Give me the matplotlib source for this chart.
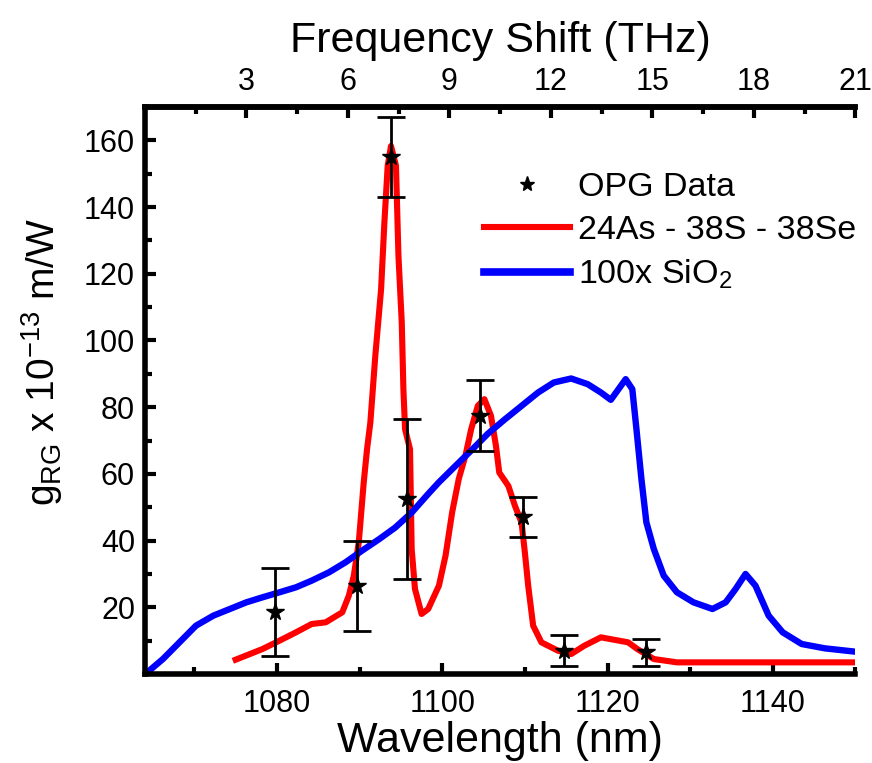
import numpy as np
import matplotlib
matplotlib.use("Agg")
import matplotlib.pyplot as plt
from matplotlib.lines import Line2D
from matplotlib.ticker import MultipleLocator

plt.rcParams["font.family"] = ["Liberation Sans", "DejaVu Sans"]
plt.rcParams["mathtext.fontset"] = "custom"
plt.rcParams["mathtext.rm"] = "Liberation Sans"

# 24As-38S-38Se Raman gain curve (wavelength nm, gain)
red_wl = [1075.0, 1078.25, 1079.9, 1082.3, 1084.2, 1085.9, 1087.9, 1088.7, 1089.3,
          1089.9, 1090.5, 1090.9, 1091.3, 1091.9, 1092.6, 1093.0, 1093.4, 1093.8,
          1094.4, 1094.7, 1095.1, 1095.3, 1095.5, 1096.1, 1096.3, 1096.7, 1097.5,
          1098.3, 1099.6, 1100.4, 1101.2, 1102.0, 1102.8, 1103.5, 1104.3, 1105.1,
          1105.9, 1106.5, 1106.9, 1108.0, 1108.8, 1109.6, 1110.0, 1110.4, 1111.0,
          1112.0, 1114.0, 1115.6, 1117.2, 1119.2, 1122.5, 1123.6, 1125.6, 1128.4,
          1136.4, 1150.0]
red_g = [4.3, 7.5, 9.5, 12.5, 15.0, 15.5, 18.5, 23.5, 29.5,
         39.5, 57.5, 67.4, 75.4, 95.4, 115.4, 135.4, 152.4, 158.3,
         152.4, 125.4, 105.4, 85.4, 73.4, 67.4, 37.5, 25.5, 18.0,
         19.5, 26.5, 35.5, 48.5, 58.5, 65.4, 73.4, 80.4, 82.4,
         77.4, 68.4, 60.4, 56.4, 50.4, 45.4, 36.4, 26.5, 14.5,
         9.5, 7.0, 6.0, 8.5, 11.0, 9.5, 7.5, 4.5, 3.5,
         3.5, 3.5]

# 100x SiO2 Raman gain curve
blue_wl = [1064.0, 1064.3, 1066.2, 1068.2, 1070.2, 1072.3, 1074.3, 1076.3, 1078.25,
           1080.3, 1082.3, 1084.2, 1086.3, 1088.3, 1090.3, 1092.4, 1094.3, 1096.3,
           1098.3, 1099.6, 1101.6, 1103.5, 1105.5, 1107.6, 1109.6, 1111.6, 1113.5,
           1115.6, 1117.6, 1119.2, 1120.4, 1122.2, 1123.0, 1123.5, 1124.1, 1124.7,
           1125.6, 1126.8, 1128.4, 1130.4, 1132.7, 1134.3, 1135.5, 1136.7, 1137.9,
           1139.5, 1141.2, 1143.5, 1146.3, 1150.0]
blue_g = [0.0, 0.5, 4.5, 9.5, 14.5, 17.5, 19.5, 21.5, 23.0,
          24.5, 26.0, 28.0, 30.5, 33.5, 37.0, 40.5, 43.9, 48.4,
          54.0, 57.5, 62.4, 67.0, 72.0, 76.4, 80.4, 84.4, 87.4,
          88.6, 86.9, 84.4, 82.2, 88.4, 85.4, 73.4, 58.5, 45.5,
          37.5, 29.5, 24.5, 21.5, 19.5, 21.5, 25.5, 30.0, 26.5,
          17.5, 12.5, 9.0, 7.7, 6.7]

# OPG measurements with error bars
opg_wl = [1079.8, 1089.7, 1093.8, 1095.7, 1104.6, 1109.8, 1114.7, 1124.6]
opg_g = [18.5, 26.5, 155.0, 52.5, 77.5, 47.0, 7.0, 6.5]
opg_err = [13.2, 13.5, 12.0, 24.0, 10.5, 6.0, 4.6, 4.0]

top_ticks = [3, 6, 9, 12, 15, 18, 21]

WL_MIN, WL_MAX = 1064.0, 1150.0
SHIFT_MAX = 21.0


def wl_to_shift(wl):
    return (np.asarray(wl, dtype=float) - WL_MIN) * SHIFT_MAX / (WL_MAX - WL_MIN)


def shift_to_wl(shift):
    return WL_MIN + np.asarray(shift, dtype=float) * (WL_MAX - WL_MIN) / SHIFT_MAX


fig = plt.figure(figsize=(8.72, 7.63), dpi=100)
ax = fig.add_axes([0.166, 0.1166, 0.815, 0.7432])

ax.plot(red_wl, red_g, color="#FF0000", lw=4.4, solid_joinstyle="round", zorder=2)
ax.plot(blue_wl, blue_g, color="#0000FF", lw=4.6, solid_joinstyle="round", zorder=2)
ax.errorbar(opg_wl, opg_g, yerr=opg_err, fmt="none", ecolor="black",
            elinewidth=2, capsize=10, capthick=2, zorder=3)
ax.plot(opg_wl, opg_g, ls="none", marker="*", ms=13, color="black", zorder=4)

ax.set_xlim(WL_MIN, WL_MAX)
ax.set_ylim(0, 170)
ax.xaxis.set_major_locator(MultipleLocator(20))
ax.xaxis.set_minor_locator(MultipleLocator(10))
ax.yaxis.set_minor_locator(MultipleLocator(10))
ax.set_yticks([20, 40, 60, 80, 100, 120, 140, 160])

ax.spines["right"].set_visible(False)
for side in ["left", "bottom", "top"]:
    ax.spines[side].set_linewidth(4)

ax.tick_params(which="both", direction="in", width=3, labelsize=22, top=False, right=False)
ax.tick_params(which="major", length=8)
ax.tick_params(which="minor", length=5)
ax.tick_params(axis="x", pad=11)
ax.tick_params(axis="y", pad=7)

ax.set_xlabel("Wavelength (nm)", fontsize=31, labelpad=1)
ax.set_ylabel(r"g$\mathregular{_{RG}}$ x 10$\mathregular{^{-13}}$ m/W", fontsize=28)
ax.yaxis.set_label_coords(-0.112, 0.55)

top = ax.secondary_xaxis("top", functions=(wl_to_shift, shift_to_wl))
top.set_xticks(top_ticks)
top.xaxis.set_minor_locator(MultipleLocator(1.5))
top.tick_params(which="both", direction="in", width=3, labelsize=22, pad=7)
top.tick_params(which="major", length=8)
top.tick_params(which="minor", length=5)
top.spines["top"].set_linewidth(4)
top.set_xlabel("Frequency Shift (THz)", fontsize=31, labelpad=11)

handles = [
    Line2D([], [], ls="none", marker="*", ms=11, color="black"),
    Line2D([], [], color="#FF0000", lw=4.4),
    Line2D([], [], color="#0000FF", lw=5.5),
]
labels = ["OPG Data", "24As - 38S - 38Se", r"100x SiO$\mathregular{_2}$"]
ax.legend(handles, labels, loc="upper left", bbox_to_anchor=(0.478, 0.885),
          frameon=False, fontsize=24.5, handlelength=2.5, handletextpad=0.25,
          borderpad=0, borderaxespad=0, labelspacing=0.35)

fig.savefig("out.png", dpi=100)
